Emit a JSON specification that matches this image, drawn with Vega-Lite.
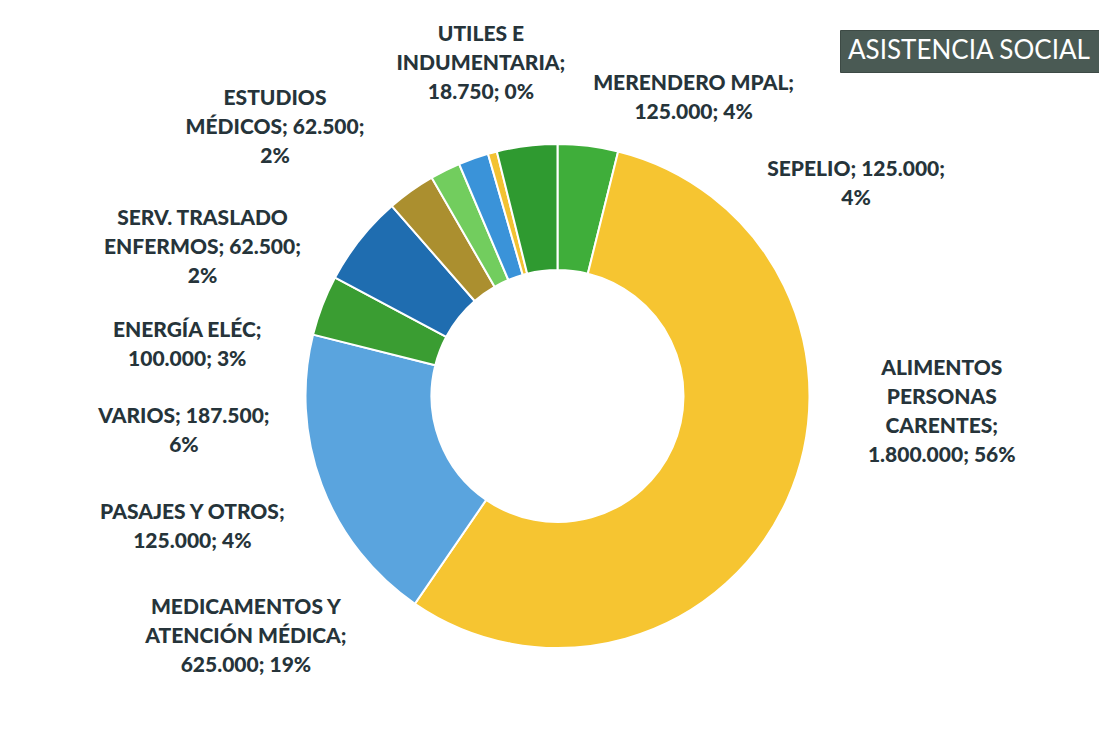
{
  "$schema": "https://vega.github.io/schema/vega-lite/v6.json",
  "width": 1039,
  "height": 688,
  "autosize": {"type": "none"},
  "padding": {"left": 38, "top": 52, "right": 22, "bottom": 0},
  "background": "white",
  "config": {
    "view": {"stroke": null},
    "text": {"font": "Lato", "fontSize": 21, "fontWeight": 900, "color": "#26343a", "lineBreak": "\n", "lineHeight": 29, "align": "center", "baseline": "middle"}
  },
  "data": {"values": [
    {"orden": 1, "categoria": "SEPELIO", "monto": 125000, "etiqueta": "SEPELIO; 125.000;\n4%"},
    {"orden": 2, "categoria": "ALIMENTOS PERSONAS CARENTES", "monto": 1800000, "etiqueta": "ALIMENTOS\nPERSONAS\nCARENTES;\n1.800.000; 56%"},
    {"orden": 3, "categoria": "MEDICAMENTOS Y ATENCIÓN MÉDICA", "monto": 625000, "etiqueta": "MEDICAMENTOS Y\nATENCIÓN MÉDICA;\n625.000; 19%"},
    {"orden": 4, "categoria": "PASAJES Y OTROS", "monto": 125000, "etiqueta": "PASAJES Y OTROS;\n125.000; 4%"},
    {"orden": 5, "categoria": "VARIOS", "monto": 187500, "etiqueta": "VARIOS; 187.500;\n6%"},
    {"orden": 6, "categoria": "ENERGÍA ELÉC", "monto": 100000, "etiqueta": "ENERGÍA ELÉC;\n100.000; 3%"},
    {"orden": 7, "categoria": "SERV. TRASLADO ENFERMOS", "monto": 62500, "etiqueta": "SERV. TRASLADO\nENFERMOS; 62.500;\n2%"},
    {"orden": 8, "categoria": "ESTUDIOS MÉDICOS", "monto": 62500, "etiqueta": "ESTUDIOS\nMÉDICOS; 62.500;\n2%"},
    {"orden": 9, "categoria": "UTILES E INDUMENTARIA", "monto": 18750, "etiqueta": "UTILES E\nINDUMENTARIA;\n18.750; 0%"},
    {"orden": 10, "categoria": "MERENDERO MPAL", "monto": 125000, "etiqueta": "MERENDERO MPAL;\n125.000; 4%"}
  ]},
  "encoding": {
    "theta": {"field": "monto", "type": "quantitative", "stack": true},
    "order": {"field": "orden", "type": "quantitative"}
  },
  "layer": [
    {
      "mark": {"type": "arc", "radius": 252, "innerRadius": 126, "stroke": "white", "strokeWidth": 2},
      "encoding": {
        "color": {
          "field": "categoria", "type": "nominal",
          "scale": {
            "domain": ["SEPELIO", "ALIMENTOS PERSONAS CARENTES", "MEDICAMENTOS Y ATENCIÓN MÉDICA", "PASAJES Y OTROS", "VARIOS", "ENERGÍA ELÉC", "SERV. TRASLADO ENFERMOS", "ESTUDIOS MÉDICOS", "UTILES E INDUMENTARIA", "MERENDERO MPAL"],
            "range": ["#3fae3a", "#f6c531", "#5aa4de", "#3a9d32", "#1f6db0", "#ab8f2f", "#72cd5e", "#3a93d9", "#f3c232", "#2f9a30"]
          },
          "legend": {
            "title": "ASISTENCIA SOCIAL", "values": [], "orient": "top-right", "offset": -22,
            "fillColor": "#4a5a54", "strokeColor": "#3d4a45", "padding": 8, "cornerRadius": 0,
            "titleColor": "white", "titleFont": "Lato", "titleFontSize": 26, "titleFontWeight": "normal", "titleLimit": 400, "titlePadding": 0
          }
        }
      }
    },
    {"mark": {"type": "text", "radius": 368, "dx": 254, "dy": 139}, "encoding": {"detail": {"field": "categoria", "type": "nominal"}, "text": {"condition": {"test": "datum.orden === 1", "field": "etiqueta", "type": "nominal"}, "value": ""}}},
    {"mark": {"type": "text", "radius": 384, "dx": 34, "dy": -184}, "encoding": {"detail": {"field": "categoria", "type": "nominal"}, "text": {"condition": {"test": "datum.orden === 2", "field": "etiqueta", "type": "nominal"}, "value": ""}}},
    {"mark": {"type": "text", "radius": 393, "dx": 56, "dy": 73}, "encoding": {"detail": {"field": "categoria", "type": "nominal"}, "text": {"condition": {"test": "datum.orden === 3", "field": "etiqueta", "type": "nominal"}, "value": ""}}},
    {"mark": {"type": "text", "radius": 387, "dx": -4, "dy": 256}, "encoding": {"detail": {"field": "categoria", "type": "nominal"}, "text": {"condition": {"test": "datum.orden === 4", "field": "etiqueta", "type": "nominal"}, "value": ""}}},
    {"mark": {"type": "text", "radius": 375, "dx": -80, "dy": 254}, "encoding": {"detail": {"field": "categoria", "type": "nominal"}, "text": {"condition": {"test": "datum.orden === 5", "field": "etiqueta", "type": "nominal"}, "value": ""}}},
    {"mark": {"type": "text", "radius": 374, "dx": -153, "dy": 239}, "encoding": {"detail": {"field": "categoria", "type": "nominal"}, "text": {"condition": {"test": "datum.orden === 6", "field": "etiqueta", "type": "nominal"}, "value": ""}}},
    {"mark": {"type": "text", "radius": 386, "dx": -183, "dy": 169}, "encoding": {"detail": {"field": "categoria", "type": "nominal"}, "text": {"condition": {"test": "datum.orden === 7", "field": "etiqueta", "type": "nominal"}, "value": ""}}},
    {"mark": {"type": "text", "radius": 391, "dx": -152, "dy": 72}, "encoding": {"detail": {"field": "categoria", "type": "nominal"}, "text": {"condition": {"test": "datum.orden === 8", "field": "etiqueta", "type": "nominal"}, "value": ""}}},
    {"mark": {"type": "text", "radius": 343, "dx": 12, "dy": -30}, "encoding": {"detail": {"field": "categoria", "type": "nominal"}, "text": {"condition": {"test": "datum.orden === 9", "field": "etiqueta", "type": "nominal"}, "value": ""}}},
    {"mark": {"type": "text", "radius": 329, "dx": 176, "dy": 15}, "encoding": {"detail": {"field": "categoria", "type": "nominal"}, "text": {"condition": {"test": "datum.orden === 10", "field": "etiqueta", "type": "nominal"}, "value": ""}}}
  ]
}
